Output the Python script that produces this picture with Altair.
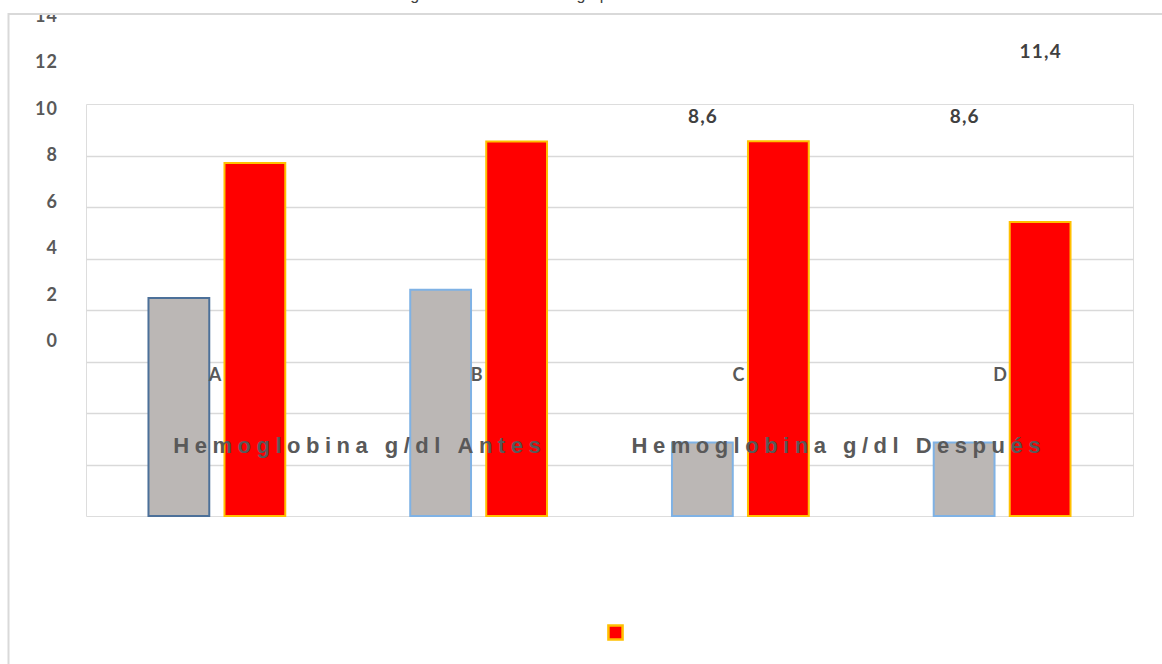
import altair as alt
import pandas as pd

# ---- data ----
categorias = ["A", "B", "C", "D"]
series = ["Antes", "Después"]
hb_antes = [8.47, 8.79, 2.85, 2.85]
hb_despues = [13.71, 14.54, 14.55, 11.42]
ticks_y = [0, 2, 4, 6, 8, 10, 12, 14]
grid_y = [2, 4, 6, 8, 10, 12, 14]
etiq_cat = ["C", "D", "D"]
etiq_serie = ["Antes", "Antes", "Después"]
etiq_valor = [8.6, 8.6, 11.4]
textos_serie = ["Hemoglobina g/dl Antes", "Hemoglobina g/dl Después"]
titulo = "Valores de hemoglobina de los distintos grupos"

HS = "\u200a"  # hair space, imitates the wide letter spacing of the original


def espaciar(t, sep):
    return sep.join(list(t))


rows = []
for i, c in enumerate(categorias):
    rows.append({"cat": c, "serie": "Antes", "valor": hb_antes[i]})
    rows.append({"cat": c, "serie": "Después", "valor": hb_despues[i]})
df = pd.DataFrame(rows)
df_lab = pd.DataFrame({
    "cat": etiq_cat, "serie": etiq_serie, "valor": etiq_valor,
    "txt": [espaciar(f"{v:.1f}".replace(".", ","), HS) for v in etiq_valor],
})
df_ticks = pd.DataFrame({"v": ticks_y, "txt": [espaciar(str(v), HS) for v in ticks_y]})
df_cat = pd.DataFrame({"cat": categorias})
one = pd.DataFrame({"k": [0]})

W, H = 1047, 412

x_scale = alt.Scale(domain=categorias, paddingInner=0, paddingOuter=0)
xoff_scale = alt.Scale(domain=series, paddingInner=0.2, paddingOuter=0.822)
a_scale = alt.Scale(domain=[-7.47, 10.25], nice=False, zero=False)

x_enc = alt.X("cat:N", scale=x_scale,
              axis=alt.Axis(title=None, labels=False, ticks=False, domain=True,
                            domainColor="#d9d9d9", domainWidth=2, grid=False))

bars = alt.Chart(df).transform_calculate(
    borde="datum.cat == 'A' && datum.serie == 'Antes' ? 'oscuro' : datum.serie"
).mark_bar(strokeWidth=2, opacity=1).encode(
    x=x_enc,
    xOffset=alt.XOffset("serie:N", scale=xoff_scale),
    y=alt.Y("valor:Q", scale=alt.Scale(domain=[0, 16], nice=False),
            axis=alt.Axis(title=None, labels=False, ticks=False, domain=False,
                          grid=True, gridColor="#d9d9d9", gridWidth=1.5, values=grid_y)),
    color=alt.Color("serie:N", scale=alt.Scale(domain=series, range=["#bbb7b5", "#ff0000"]),
                    legend=alt.Legend(values=["Después"], orient="none", legendX=521, legendY=520,
                                      title=None, labelExpr="''", symbolType="square",
                                      symbolSize=200, symbolStrokeColor="#ffc000",
                                      symbolStrokeWidth=2.5, symbolOpacity=1, padding=0)),
    stroke=alt.Stroke("borde:N", scale=alt.Scale(domain=["oscuro", "Antes", "Después"],
                                                 range=["#4c7099", "#7fb2e5", "#ffc000"]),
                      legend=None),
)

ylab = alt.Chart(df_ticks).mark_text(
    align="right", baseline="middle", font="Lato", fontWeight="bold", fontSize=18, color="#595959"
).encode(
    x=alt.value(-29),
    y=alt.Y("v:Q", scale=a_scale, axis=None),
    text="txt:N",
)

dlab = alt.Chart(df_lab).mark_text(
    align="center", baseline="middle", font="Lato", fontWeight="bold", fontSize=19,
    color="#404040", dy=-25
).encode(
    x=alt.X("cat:N", scale=x_scale, axis=None),
    xOffset=alt.XOffset("serie:N", scale=xoff_scale),
    y=alt.Y("valor:Q", scale=a_scale, axis=None),
    text="txt:N",
)

clab = alt.Chart(df_cat).transform_calculate(base="0").mark_text(
    align="center", baseline="middle", font="Lato", fontWeight="bold", fontSize=18,
    color="#595959", dy=34, dx=-2
).encode(
    x=alt.X("cat:N", scale=x_scale, axis=None),
    y=alt.Y("base:Q", scale=a_scale, axis=None),
    text="cat:N",
)

sty = dict(align="center", baseline="middle", font="Liberation Sans", fontWeight="bold",
           fontSize=22, color="#595959")
serie_a = alt.Chart(pd.DataFrame({"t": [espaciar(textos_serie[0], "\u2005")]})).mark_text(**sty).encode(
    x=alt.value(271), y=alt.value(342), text="t:N")
serie_d = alt.Chart(pd.DataFrame({"t": [espaciar(textos_serie[1], "\u2005")]})).mark_text(**sty).encode(
    x=alt.value(750), y=alt.value(342), text="t:N")

cover = alt.Chart(one).mark_rect(fill="white").encode(
    x=alt.value(-86), x2=alt.value(1076), y=alt.value(-104), y2=alt.value(-90))
frame = alt.Chart(one).mark_rect(fill=None, fillOpacity=0, stroke="#d9d9d9", strokeWidth=2).encode(
    x=alt.value(-77.5), x2=alt.value(1090), y=alt.value(-90), y2=alt.value(580))
title = alt.Chart(pd.DataFrame({"t": [titulo]})).mark_text(
    align="center", baseline="alphabetic", font="Liberation Sans", fontSize=16, color="#404040"
).encode(x=alt.value(372), y=alt.value(-104.5), text="t:N")

chart = alt.layer(bars, ylab, dlab, clab, serie_a, serie_d, cover, frame, title).resolve_scale(
    y="independent"
).properties(
    width=W, height=H,
    autosize=alt.AutoSizeParams(type="none"),
    padding={"left": 86, "top": 104, "right": 29, "bottom": 148},
).configure_view(stroke="#dce8f5", strokeWidth=1.5).configure(background="white")

chart.save("out.html", embed_options={"renderer": "svg", "actions": False})
